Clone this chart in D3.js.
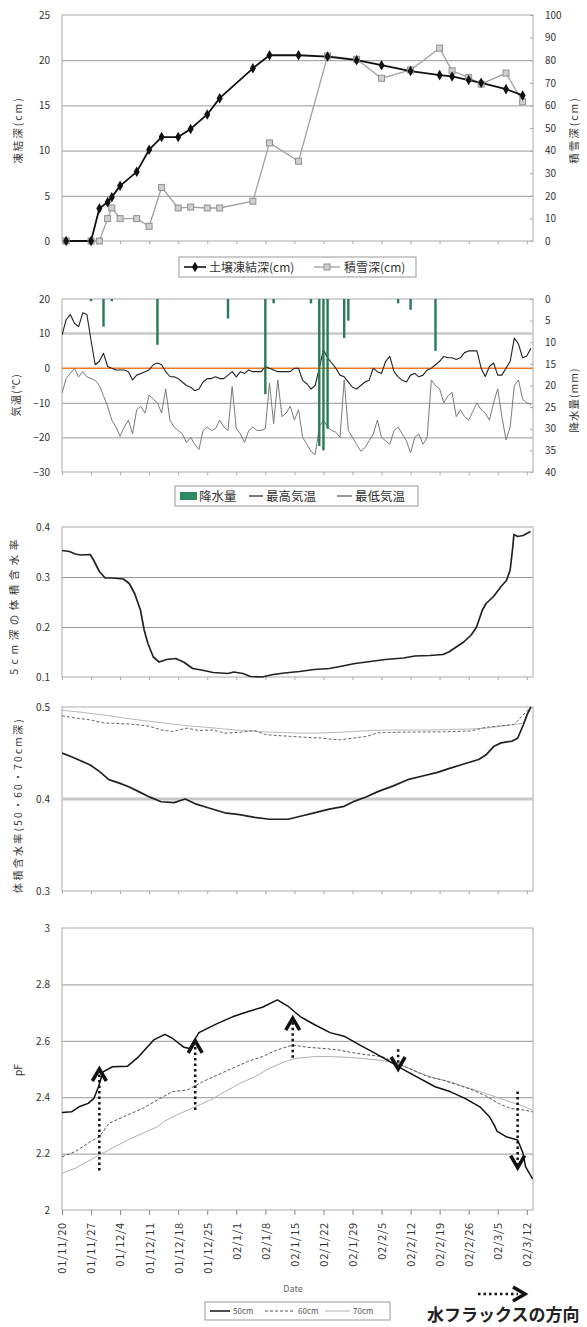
<!DOCTYPE html>
<html><head><meta charset="utf-8">
<script src="https://cdn.jsdelivr.net/npm/d3@7"></script>
<style>
body{margin:0;background:#fff}
svg text{font-family:"Noto Sans CJK JP","Noto Sans",sans-serif;}
</style></head>
<body><svg id="c" width="587" height="1327"></svg>
<script>
// ---------- DATA ----------
const startDate = "2001-11-20";
const dateLabels = ["01/11/20","01/11/27","01/12/4","01/12/11","01/12/18","01/12/25","02/1/1","02/1/8","02/1/15","02/1/22","02/1/29","02/2/5","02/2/12","02/2/19","02/2/26","02/3/5","02/3/12"];

// Panel 1: observation dates, soil frost depth (cm), snow depth (cm)
const obsDates = ["2001-11-21","2001-11-27","2001-11-29","2001-12-01","2001-12-02","2001-12-04","2001-12-08","2001-12-11","2001-12-14","2001-12-18","2001-12-21","2001-12-25","2001-12-28","2002-01-05","2002-01-09","2002-01-16","2002-01-23","2002-01-30","2002-02-05","2002-02-12","2002-02-19","2002-02-22","2002-02-26","2002-03-01","2002-03-07","2002-03-11"];
const frostDepth = [0,0,3.6,4.3,4.85,6.1,7.65,10.1,11.5,11.5,12.4,14.0,15.8,19.1,20.55,20.55,20.4,20.0,19.45,18.8,18.35,18.2,17.8,17.5,16.8,16.1];
const snowDepth = [0,0,0,9.9,14.6,9.9,9.9,6.5,23.7,14.6,15,14.6,14.6,17.6,43.4,35.3,81.9,80.4,72,75.7,85.3,75.3,72.4,69.4,74.3,61.6];

// Panel 2: daily max / min air temperature (from 2001-11-20), precipitation
const tMax = [9.6,14,15.5,13,12,16,15.5,8,1,2,4.3,0.5,0,-0.5,-0.5,-0.5,-1,-3.4,-2,-1.5,-1,-0.5,1,1.5,1,-1,-2.4,-2.5,-3,-4,-5,-5.5,-6.5,-6,-4,-3,-3,-2.5,-3,-3,-2,-1,-2.5,-1,-1.5,-0.5,-1,-1,-1,0.5,0,-0.5,-1,-1,-1,-1,0,0,-3.5,-4.5,-6,-5,0,5.3,3,1.5,0,-2,-2.5,-4,-5.5,-6,-5,-4,-3.5,0,-1,-1.5,2,3.4,-1,-2.5,-3.5,-4,-2,-1.5,-2.5,-2,-0.5,0,1,2,3.4,3,3,2.5,3,4.5,5,5,5,0,-2.4,0.5,1.5,-2,-2,0,2,8.7,7,3,3.5,5.8];
const tMin = [-7.2,-3,-1.5,0,-2.5,-1,-2.5,-3,-3.5,-5,-8,-11,-15,-17,-19.7,-17,-15,-19,-12,-11,-13,-7.7,-9,-10,-13,-6,-15,-17,-18,-19,-21.5,-20,-22,-23.5,-18,-17,-18,-17.5,-15,-17,-18,-5.3,-17.5,-19,-21.5,-18,-17,-18,-18,-17.5,-4.3,-16,-3.4,-14,-13,-11,-15,-12,-20,-22,-24,-25,-17,-15,-17,-18,-18.5,-20,-3.4,-18,-20,-22,-24,-23,-21,-19,-15,-20,-21,-22,-18,-17,-19,-21,-24.5,-20,-19,-22,-20,-3.4,-5,-6,-10,-8,-7,-14,-12,-14,-15,-12.5,-10,-12,-13,-15,-10,-6,-14,-20.7,-17,-5,-3.4,-9,-10,-10.5];
const precipDay = [7,10,12,23,40,49,51,60,62,63,64,68,69,81,84,90];
const precipMm = [0.5,6.4,0.5,10.6,4.5,22,1,1,34,35,30,9,5,1,2.5,12];

// Panel 3: volumetric water content at 5 cm (day offset, value)
const vwc5Day = [0,1.8,3.2,4.5,6.8,7.6,9,10.4,12.1,14.8,16.2,17.5,18.9,19.8,20.7,22,23.4,25.2,27.4,29.3,31.5,34.2,36.4,40,41.4,43.6,45.4,48.2,50.9,53.6,57.2,60.8,64.4,67,70.6,74.3,77.9,82.3,85,88.6,91.8,93.2,95,96.8,98.6,99.9,101.3,102.2,104,105.8,107.1,108,108.6,108.9,109.8,111.1,112.9];
const vwc5 = [0.353,0.351,0.346,0.344,0.345,0.334,0.311,0.298,0.298,0.296,0.287,0.267,0.234,0.194,0.167,0.14,0.13,0.135,0.137,0.13,0.117,0.113,0.109,0.107,0.11,0.107,0.101,0.1,0.105,0.108,0.111,0.115,0.117,0.121,0.127,0.131,0.135,0.138,0.142,0.143,0.145,0.15,0.16,0.17,0.184,0.2,0.234,0.247,0.261,0.281,0.293,0.314,0.358,0.385,0.381,0.383,0.391];

// Panel 4: volumetric water content at 50/60/70 cm
const vwc50Day = [0,2.3,6.8,9,11.3,14,16.2,18.5,21.2,23.9,27,29.7,32,35.6,39.2,42.8,46.4,50,54.5,57.2,60.8,64.4,68,70.7,73.4,76.1,79.7,83.3,86.9,90.5,93.2,96.8,100.4,102.2,104,105.8,108.5,109.8,111.2,112.1,113];
const vwc50 = [0.450,0.446,0.437,0.430,0.421,0.417,0.413,0.408,0.402,0.397,0.396,0.400,0.395,0.390,0.385,0.383,0.380,0.378,0.378,0.381,0.385,0.389,0.392,0.398,0.4025,0.408,0.414,0.421,0.425,0.429,0.433,0.438,0.443,0.448,0.457,0.461,0.463,0.466,0.481,0.492,0.500];
const vwc60Day = [0,3.2,6.8,10.4,14,17.6,21.2,23.9,26.6,30.2,32.9,36.5,39.2,42.8,46.4,49.1,51.8,55.4,59,62.6,64.4,67.1,69.8,73.4,76.1,82.4,91.4,98.6,102.2,105.8,108.9,113];
const vwc60 = [0.4905,0.488,0.486,0.4825,0.482,0.481,0.479,0.475,0.4735,0.477,0.4745,0.475,0.4716,0.4724,0.4745,0.470,0.469,0.468,0.467,0.4662,0.4651,0.4644,0.466,0.468,0.472,0.4727,0.473,0.474,0.478,0.4796,0.481,0.500];
const vwc70Day = [0,3.2,7.6,12.1,16.6,21.2,25.6,30.2,34.7,39.2,43.7,48.2,52.7,57.2,61.7,66.2,70.7,75.2,79.7,84.2,88.7,93.2,97.7,102.2,106.7,111.2,113];
const vwc70 = [0.4964,0.495,0.4927,0.490,0.487,0.4844,0.482,0.4796,0.478,0.476,0.4745,0.473,0.4724,0.4716,0.4716,0.4724,0.4735,0.4745,0.475,0.475,0.475,0.4756,0.476,0.477,0.4796,0.4825,0.500];

// Panel 5: pF at 50/60/70 cm
const pf50Day = [0,2.3,4.1,6.3,7.7,8.8,9.9,12.2,15.8,18.5,22.1,24.8,26.6,29.4,30.7,33,37.5,41.1,44.7,48.3,51.9,54.7,57.4,61,64.6,68.2,71.8,75.4,79,82.2,85.4,89.9,93.5,97.1,100.7,103,104.2,104.8,107,109.8,111.1,111.7,113.4];
const pf50 = [2.346,2.348,2.366,2.378,2.396,2.437,2.49,2.508,2.51,2.544,2.603,2.623,2.609,2.577,2.573,2.629,2.662,2.685,2.703,2.719,2.745,2.72,2.686,2.656,2.629,2.615,2.585,2.556,2.526,2.499,2.473,2.437,2.42,2.396,2.366,2.331,2.30,2.28,2.26,2.248,2.201,2.154,2.11];
const pf60Day = [0,3.2,6.8,9,11.3,14.9,19.4,23,26.6,30.3,33.9,37.5,41.1,44.7,48.3,51.9,55.6,59.2,62.8,66.4,70,73.6,77.2,80.8,84.5,88.1,91.7,95.3,98.9,102.5,105.2,108,111.6,113.4];
const pf60 = [2.189,2.207,2.242,2.26,2.307,2.331,2.36,2.39,2.42,2.426,2.455,2.479,2.503,2.526,2.544,2.568,2.585,2.577,2.573,2.568,2.558,2.55,2.544,2.52,2.497,2.473,2.461,2.444,2.426,2.402,2.378,2.36,2.354,2.348];
const pf70Day = [0,3.2,6.8,9,12.2,15.8,19.4,23,24.8,28.5,32.1,35.7,39.3,42.9,46.5,50.1,53.7,56.5,60.9,64.6,68.2,71.8,75.4,79,82.6,86.2,89.9,93.5,97.1,100.7,104.3,107.9,111.6,113.4];
const pf70 = [2.13,2.148,2.177,2.195,2.22,2.248,2.272,2.295,2.316,2.343,2.366,2.39,2.42,2.449,2.473,2.503,2.526,2.538,2.544,2.544,2.542,2.538,2.533,2.526,2.508,2.485,2.467,2.455,2.437,2.42,2.402,2.384,2.366,2.354];
// water-flux direction arrows (day, from pF, to pF)
const fluxDay = [9,32.1,55.6,81,109.8];
const fluxFrom = [2.14,2.355,2.54,2.57,2.42];
const fluxTo = [2.50,2.60,2.68,2.50,2.15];

// ---------- DRAWING ----------
const svg = d3.select("#c");
const parse = d3.timeParse("%Y-%m-%d");
const t0 = parse(startDate);
const dayOf = s => d3.timeDay.count(t0, parse(s));
const L = 62, R = 533;
const x = d3.scaleLinear().domain([0,113.5]).range([L,R]);
const weekTicks = d3.range(0,113,7);
const gridC = "#999", frameC = "#aaa", txtC = "#333";

svg.append("defs").append("clipPath").attr("id","clip")
  .append("rect").attr("x",L).attr("y",0).attr("width",R-L).attr("height",1327);

function frame(top,bottom,domain,ticks,fmt,grid,tickLen){
  const y = d3.scaleLinear().domain(domain).range([bottom,top]);
  const g = svg.append("g");
  g.append("g").attr("transform",`translate(${L},0)`)
    .call(d3.axisLeft(y).tickValues(grid).tickSize(-(R-L)).tickFormat(""))
    .call(a=>{a.select(".domain").remove();a.selectAll("line").attr("stroke",gridC);});
  g.append("rect").attr("x",L).attr("y",top).attr("width",R-L).attr("height",bottom-top)
    .attr("fill","none").attr("stroke",frameC);
  g.append("g").attr("transform",`translate(${L},0)`)
    .call(d3.axisLeft(y).tickValues(ticks).tickSize(0).tickPadding(12).tickFormat(fmt))
    .call(a=>{a.select(".domain").remove();a.selectAll("text").attr("font-size",10).attr("fill",txtC);});
  g.append("g").attr("transform",`translate(0,${bottom})`)
    .call(d3.axisBottom(x).tickValues(weekTicks).tickSize(tickLen||3).tickFormat(""))
    .call(a=>{a.select(".domain").remove();a.selectAll("line").attr("stroke",tickLen?"#888":frameC);});
  return y;
}
function vtitle(tx,ty,text,size,ls){
  svg.append("text").attr("transform",`translate(${tx},${ty}) rotate(-90)`)
    .attr("text-anchor","middle").attr("font-size",size||10.5).attr("letter-spacing",ls||0)
    .attr("fill","#333").text(text);
}
function rightAxis(y,ticks){
  svg.append("g").attr("transform",`translate(${R},0)`)
    .call(d3.axisRight(y).tickValues(ticks).tickSize(-3).tickPadding(12))
    .call(a=>{a.select(".domain").remove();a.selectAll("line").attr("stroke",frameC);
      a.selectAll("text").attr("font-size",10).attr("fill",txtC);});
}
function line(data,xs,y,stroke,w,dash){
  svg.append("path").datum(d3.zip(xs,data)).attr("clip-path","url(#clip)")
    .attr("fill","none").attr("stroke",stroke).attr("stroke-width",w)
    .attr("stroke-dasharray",dash||null).attr("stroke-linejoin","round")
    .attr("d",d3.line().x(d=>x(d[0])).y(d=>y(d[1])));
}
function hline(y,v,stroke,w){
  svg.append("line").attr("x1",L).attr("x2",R).attr("y1",y(v)).attr("y2",y(v)).attr("stroke",stroke).attr("stroke-width",w);
}

// ----- Panel 1 -----
const y1 = frame(15,241,[0,25],d3.range(0,26,5),d3.format("d"),[5,10,15,20]);
const y1r = d3.scaleLinear().domain([0,100]).range([241,15]);
rightAxis(y1r,d3.range(0,101,10));
vtitle(22,130,"凍結深(cm)",10.5,2);
vtitle(578,130,"積雪深(cm)",10.5,2);
const obsX = obsDates.map(dayOf);
line(snowDepth,obsX,y1r,"#a0a0a0",1.3);
line(frostDepth,obsX,y1,"#111",1.8);
svg.append("g").selectAll("rect").data(d3.zip(obsX,snowDepth)).join("rect")
  .attr("x",d=>x(d[0])-3).attr("y",d=>y1r(d[1])-3).attr("width",6).attr("height",6)
  .attr("fill","#cfcfcf").attr("stroke","#909090");
svg.append("g").selectAll("path").data(d3.zip(obsX,frostDepth)).join("path")
  .attr("d",d3.symbol(d3.symbolDiamond,32)).attr("transform",d=>`translate(${x(d[0])},${y1(d[1])})`)
  .attr("fill","#111");
// legend 1
{
  const g = svg.append("g");
  g.append("rect").attr("x",179).attr("y",257).attr("width",237).attr("height",20).attr("fill","#fff").attr("stroke","#999");
  g.append("line").attr("x1",184).attr("x2",206).attr("y1",267).attr("y2",267).attr("stroke","#111").attr("stroke-width",1.6);
  g.append("path").attr("d",d3.symbol(d3.symbolDiamond,32)).attr("transform","translate(195,267)").attr("fill","#111");
  g.append("text").attr("x",209).attr("y",271.5).attr("font-size",12).attr("fill","#333").text("土壌凍結深(cm)");
  g.append("line").attr("x1",314).attr("x2",340).attr("y1",267).attr("y2",267).attr("stroke","#a0a0a0").attr("stroke-width",1.3);
  g.append("rect").attr("x",324).attr("y",264).attr("width",6).attr("height",6).attr("fill","#cfcfcf").attr("stroke","#909090");
  g.append("text").attr("x",344).attr("y",271.5).attr("font-size",12).attr("fill","#333").text("積雪深(cm)");
}

// ----- Panel 2 -----
const y2 = frame(299,472,[-30,20],d3.range(-30,21,10),d3.format("d"),[-20,-10]);
hline(y2,10,"#c8c8c8",2.5);
const y2r = d3.scaleLinear().domain([40,0]).range([472,299]);
rightAxis(y2r,d3.range(0,41,5));
vtitle(20,395,"気温(℃)",10.5,1);
vtitle(578,400,"降水量(mm)",10.5,1);
hline(y2,0,"#f07a20",1.6);
line(tMin,tMin.map((d,i)=>i),y2,"#7a7a7a",1);
line(tMax,tMax.map((d,i)=>i),y2,"#222",1.1);
svg.append("g").selectAll("rect").data(d3.zip(precipDay,precipMm)).join("rect")
  .attr("x",d=>x(d[0])-1.2).attr("y",299).attr("width",2.4).attr("height",d=>y2r(d[1])-299)
  .attr("fill","#2a7a55");
{
  const g = svg.append("g");
  g.append("rect").attr("x",175).attr("y",486).attr("width",243).attr("height",20).attr("fill","#fff").attr("stroke","#999");
  g.append("rect").attr("x",180).attr("y",492).attr("width",17).attr("height",8).attr("fill","#2a8a60");
  g.append("text").attr("x",199).attr("y",500.5).attr("font-size",12.5).attr("fill","#333").text("降水量");
  g.append("line").attr("x1",249).attr("x2",263).attr("y1",496).attr("y2",496).attr("stroke","#222").attr("stroke-width",1.2);
  g.append("text").attr("x",266).attr("y",500.5).attr("font-size",12.5).attr("fill","#333").text("最高気温");
  g.append("line").attr("x1",337).attr("x2",352).attr("y1",496).attr("y2",496).attr("stroke","#555").attr("stroke-width",1.2);
  g.append("text").attr("x",355).attr("y",500.5).attr("font-size",12.5).attr("fill","#333").text("最低気温");
}

// ----- Panel 3 -----
const y3 = frame(527,677,[0.1,0.4],[0.1,0.2,0.3,0.4],d3.format(".1f"),[0.2,0.3]);
vtitle(18,605,"5cm深の体積含水率",10.5,4.5);
line(vwc5,vwc5Day,y3,"#222",1.7);

// ----- Panel 4 -----
const y4 = frame(707,891,[0.3,0.5],[0.3,0.4,0.5],d3.format(".1f"),[]);
hline(y4,0.4,"#c8c8c8",3);
vtitle(22,805,"体積含水率(50・60・70cm深)",10,2.3);
line(vwc70,vwc70Day,y4,"#b8b8b8",1);
line(vwc60,vwc60Day,y4,"#666",1,"3,2");
line(vwc50,vwc50Day,y4,"#222",1.7);

// ----- Panel 5 -----
const y5 = frame(928,1210,[2,3],[2,2.2,2.4,2.6,2.8,3],d=>(d===2||d===3)?d3.format("d")(d):d3.format(".1f")(d),[2.2,2.4,2.6,2.8],5);
vtitle(22,1070,"pF",10.5,0);
line(pf70,pf70Day,y5,"#b0b0b0",1);
line(pf60,pf60Day,y5,"#555",1,"3,2");
line(pf50,pf50Day,y5,"#111",1.5);
svg.append("g").attr("transform","translate(0,1210)")
  .call(d3.axisBottom(x).tickValues(weekTicks).tickSize(0).tickFormat((d,i)=>dateLabels[i]))
  .call(a=>{a.select(".domain").remove();
    a.selectAll("text").attr("font-size",11).attr("letter-spacing",0.8).attr("fill",txtC)
      .attr("transform","rotate(-90)").attr("text-anchor","end").attr("x",-12).attr("y",0).attr("dy","0.35em");});
svg.append("text").attr("x",293).attr("y",1292).attr("text-anchor","middle").attr("font-size",9).attr("fill","#666").text("Date");
// flux arrows
const chev = (cx,cy,up) => up ? `M${cx-7},${cy+12}L${cx},${cy}L${cx+7},${cy+12}` : `M${cx-7},${cy-12}L${cx},${cy}L${cx+7},${cy-12}`;
fluxDay.forEach((d,i)=>{
  const cx = x(d), up = fluxTo[i] > fluxFrom[i];
  svg.append("line").attr("x1",cx).attr("x2",cx).attr("y1",y5(fluxFrom[i])).attr("y2",y5(fluxTo[i]))
    .attr("stroke","#111").attr("stroke-width",2.5).attr("stroke-dasharray","2.5,3");
  svg.append("path").attr("d",chev(cx,y5(fluxTo[i]),up)).attr("fill","none").attr("stroke","#111").attr("stroke-width",3.5);
});
// legend 5
{
  const g = svg.append("g");
  g.append("rect").attr("x",205).attr("y",1302).attr("width",185).attr("height",18).attr("fill","#fff").attr("stroke","#999");
  g.append("line").attr("x1",210).attr("x2",230).attr("y1",1311).attr("y2",1311).attr("stroke","#111").attr("stroke-width",1.5);
  g.append("text").attr("x",233).attr("y",1314).attr("font-size",8).attr("fill","#555").text("50cm");
  g.append("line").attr("x1",265).attr("x2",295).attr("y1",1311).attr("y2",1311).attr("stroke","#555").attr("stroke-dasharray","3,2");
  g.append("text").attr("x",298).attr("y",1314).attr("font-size",8).attr("fill","#555").text("60cm");
  g.append("line").attr("x1",325).attr("x2",350).attr("y1",1311).attr("y2",1311).attr("stroke","#b0b0b0");
  g.append("text").attr("x",353).attr("y",1314).attr("font-size",8).attr("fill","#555").text("70cm");
}
// flux key
svg.append("line").attr("x1",478).attr("x2",518).attr("y1",1294).attr("y2",1294).attr("stroke","#111").attr("stroke-width",2.5).attr("stroke-dasharray","2.5,3");
svg.append("path").attr("d","M513,1287L525,1294L513,1301").attr("fill","none").attr("stroke","#111").attr("stroke-width",3.5);
svg.append("text").attr("x",427).attr("y",1321).attr("font-size",17).attr("font-weight","bold").attr("fill","#222").text("水フラックスの方向");
</script>
</body></html>
